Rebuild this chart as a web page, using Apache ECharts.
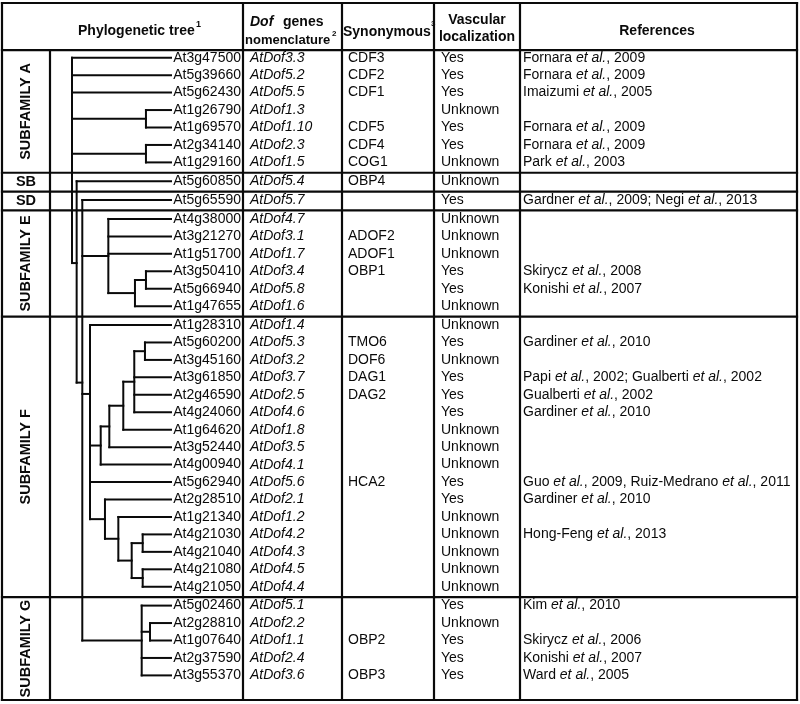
<!DOCTYPE html>
<html><head><meta charset="utf-8">
<script src="https://cdn.jsdelivr.net/npm/echarts@6/dist/echarts.min.js"></script>
<style>html,body{margin:0;padding:0;background:#fff}#c{width:800px;height:704px}</style>
</head><body><div id="c"></div>
<script>
// ---------------- DATA ----------------
const genes = ['At3g47500','At5g39660','At5g62430','At1g26790','At1g69570','At2g34140','At1g29160',
  'At5g60850','At5g65590',
  'At4g38000','At3g21270','At1g51700','At3g50410','At5g66940','At1g47655',
  'At1g28310','At5g60200','At3g45160','At3g61850','At2g46590','At4g24060','At1g64620','At3g52440',
  'At4g00940','At5g62940','At2g28510','At1g21340','At4g21030','At4g21040','At4g21080','At4g21050',
  'At5g02460','At2g28810','At1g07640','At2g37590','At3g55370'];
const dofNames = ['AtDof3.3','AtDof5.2','AtDof5.5','AtDof1.3','AtDof1.10','AtDof2.3','AtDof1.5',
  'AtDof5.4','AtDof5.7',
  'AtDof4.7','AtDof3.1','AtDof1.7','AtDof3.4','AtDof5.8','AtDof1.6',
  'AtDof1.4','AtDof5.3','AtDof3.2','AtDof3.7','AtDof2.5','AtDof4.6','AtDof1.8','AtDof3.5',
  'AtDof4.1','AtDof5.6','AtDof2.1','AtDof1.2','AtDof4.2','AtDof4.3','AtDof4.5','AtDof4.4',
  'AtDof5.1','AtDof2.2','AtDof1.1','AtDof2.4','AtDof3.6'];
const synonyms = ['CDF3','CDF2','CDF1','','CDF5','CDF4','COG1',
  'OBP4','',
  '','ADOF2','ADOF1','OBP1','','',
  '','TMO6','DOF6','DAG1','DAG2','','','',
  '','HCA2','','','','','','',
  '','','OBP2','','OBP3'];
const vascular = ['Yes','Yes','Yes','Unknown','Yes','Yes','Unknown',
  'Unknown','Yes',
  'Unknown','Unknown','Unknown','Yes','Yes','Unknown',
  'Unknown','Yes','Unknown','Yes','Yes','Yes','Unknown','Unknown',
  'Unknown','Yes','Yes','Unknown','Unknown','Unknown','Unknown','Unknown',
  'Yes','Unknown','Yes','Yes','Yes'];
const references = ['Fornara *et al.*, 2009','Fornara *et al.*, 2009','Imaizumi *et al.*, 2005','',
  'Fornara *et al.*, 2009','Fornara *et al.*, 2009','Park *et al.*, 2003',
  '','Gardner *et al.*, 2009; Negi *et al.*, 2013',
  '','','','Skirycz *et al.*, 2008','Konishi *et al.*, 2007','',
  '','Gardiner *et al.*, 2010','','Papi *et al.*, 2002; Gualberti *et al.*, 2002','Gualberti *et al.*, 2002',
  'Gardiner *et al.*, 2010','','',
  '','Guo *et al.*, 2009, Ruiz-Medrano *et al.*, 2011','Gardiner *et al.*, 2010','','Hong-Feng *et al.*, 2013','','','',
  'Kim *et al.*, 2010','','Skirycz *et al.*, 2006','Konishi *et al.*, 2007','Ward *et al.*, 2005'];
const sectionNames = ['SUBFAMILY A','SB','SD','SUBFAMILY E','SUBFAMILY F','SUBFAMILY G'];
const sectionSizes = [7,1,1,6,16,5];
// cladogram: leaves are row indices; d = branch-point depth (0 = root, 100 = tips); at = drawn junction row
const tree = {d:0, c:[0,1,2,{d:74.7,c:[3,4]},{d:74.7,c:[5,6]},
  {d:4.7, at:11.77, c:[7,
    {d:10.4, at:18.62, c:[8,
      {d:36.7, c:[9,10,11,{d:63.6,c:[{d:74.7,c:[12,13]},14]}]},
      {d:18.2, at:19.27, c:[15,
        {d:29, c:[{d:37.7, c:[{d:51.8, c:[{d:62.9, c:[{d:73.7,c:[16,17]},18,19,20]},21]},22]},23]},
        24,
        {d:33.3, c:[25,{d:46.8, c:[26,{d:60.3, c:[{d:71.4,c:[27,28]},{d:71.4,c:[29,30]}]}]}]}]},
      {d:70.4, c:[31,{d:78.8,c:[32,33]},34,35]}
    ]}
  ]}
]};

// ---------------- LAYOUT ----------------
const FONT = '"Liberation Sans", Arial, Helvetica, sans-serif';
const INK = '#0a0a0a';
const COL = {left:2, sub:50, tree:243, dof:342, syn:434, vasc:520, right:797};
const TXT = {gene:241, dof:250, syn:348, vasc:441, ref:523, sub:26};
const SECTION_GAP = 0.08;
const Y_MIN = -3.135, Y_MAX = 36.81, HEADER_LINE = -0.44;
const LEAF_D = 100;

const sectionOf = [];
sectionSizes.forEach((n, s) => { for (let k = 0; k < n; k++) sectionOf.push(s); });
const rowPos = i => i + SECTION_GAP * sectionOf[i];
let acc = 0;
const sections = sectionSizes.map((n, s) => { const f = acc; acc += n; return {s, first: f, last: f + n - 1}; });
const boundaries = [];
for (let s = 0; s < sections.length - 1; s++) {
  const a = rowPos(sections[s].last), b = rowPos(sections[s + 1].first);
  boundaries.push(a + 0.55 * (b - a));
}
const secTop = [HEADER_LINE].concat(boundaries), secBot = boundaries.concat([Y_MAX]);

// tree segments
const treeSegs = [];
function lay(node) {
  if (typeof node === 'number') return {y: rowPos(node), d: LEAF_D};
  const kids = node.c.map(lay);
  const ys = kids.map(k => k.y);
  const lo = Math.min(...ys), hi = Math.max(...ys);
  kids.forEach(k => treeSegs.push([node.d, k.y, k.d, k.y]));
  const y = node.at !== undefined ? node.at : (lo + hi) / 2;
  treeSegs.push([node.d, Math.min(lo, y), node.d, Math.max(hi, y)]);
  return {y, d: node.d};
}
lay(tree);

// table rules
const rules = [];
[Y_MIN, HEADER_LINE, ...boundaries, Y_MAX].forEach(y => rules.push([COL.left, y, COL.right, y]));
[COL.left, COL.tree, COL.dof, COL.syn, COL.vasc, COL.right].forEach(x => rules.push([x, Y_MIN, x, Y_MAX]));
rules.push([COL.sub, HEADER_LINE, COL.sub, Y_MAX]);

function richRef(s) {
  return s.split('*').map((p, k) => p ? '{' + (k % 2 ? 'i' : 'n') + '|' + p + '}' : '').join('');
}
const base = {fontSize: 14, fontFamily: FONT, fill: INK};

function segRender(width) {
  return function (params, api) {
    const a = api.coord([api.value(0), api.value(1)]);
    const b = api.coord([api.value(2), api.value(3)]);
    return {type: 'line', shape: {x1: a[0], y1: a[1], x2: b[0], y2: b[1]},
      style: {stroke: INK, lineWidth: width, lineCap: 'square'}};
  };
}

const option = {
  animation: false,
  backgroundColor: '#fff',
  grid: [
    {left: 0, right: 0, top: 3, bottom: 4, show: false},
    {left: 72, width: 99, top: 3, bottom: 4, show: false}
  ],
  xAxis: [
    {type: 'value', gridIndex: 0, min: 0, max: 800, show: false},
    {type: 'value', gridIndex: 1, min: 0, max: 100, show: false}
  ],
  yAxis: [
    {type: 'value', gridIndex: 0, min: Y_MIN, max: Y_MAX, inverse: true, show: false},
    {type: 'value', gridIndex: 1, min: Y_MIN, max: Y_MAX, inverse: true, show: false}
  ],
  series: [
    {type: 'custom', xAxisIndex: 0, yAxisIndex: 0, data: rules, encode: {x: [0, 2], y: [1, 3]},
      renderItem: segRender(2.2), silent: true},
    {type: 'custom', xAxisIndex: 1, yAxisIndex: 1, data: treeSegs, encode: {x: [0, 2], y: [1, 3]},
      renderItem: segRender(2), silent: true},
    {type: 'custom', xAxisIndex: 0, yAxisIndex: 0, silent: true,
      data: genes.map((g, i) => [0, rowPos(i), i]), encode: {x: 0, y: 1},
      renderItem: function (params, api) {
        const i = api.value(2), v = api.value(1);
        const at = x => api.coord([x, v]);
        const t = (x, text, extra) => {
          const p = at(x);
          return {type: 'text', x: p[0], y: p[1],
            style: Object.assign({text: text, align: 'left', verticalAlign: 'middle'}, base, extra || {})};
        };
        const els = [
          t(TXT.gene, genes[i], {align: 'right'}),
          t(TXT.dof, dofNames[i], {fontStyle: 'italic'}),
          t(TXT.syn, synonyms[i]),
          t(TXT.vasc, vascular[i])
        ];
        if (references[i]) {
          els.push(t(TXT.ref, richRef(references[i]), {rich: {
            n: Object.assign({}, base),
            i: Object.assign({fontStyle: 'italic'}, base)
          }}));
        }
        return {type: 'group', children: els};
      }},
    {type: 'custom', xAxisIndex: 0, yAxisIndex: 0, silent: true,
      data: sections.map(s => [0, (secTop[s.s] + secBot[s.s]) / 2, s.s]), encode: {x: 0, y: 1},
      renderItem: function (params, api) {
        const s = api.value(2);
        const p = api.coord([TXT.sub, api.value(1)]);
        const name = sectionNames[s];
        const vertical = sectionSizes[s] > 1;
        return {type: 'text', x: p[0], y: p[1], rotation: vertical ? Math.PI / 2 : 0,
          style: Object.assign({}, base, {text: name, align: 'center', verticalAlign: 'middle', fontWeight: 'bold', fontSize: 14.5})};
      }}
  ],
  graphic: [
    {type: 'text', x: 78, y: 31, style: Object.assign({text: 'Phylogenetic tree', fontWeight: 'bold', verticalAlign: 'middle'}, base)},
    {type: 'text', x: 196, y: 25, style: Object.assign({}, base, {text: '1', fontSize: 9, fontWeight: 'bold', verticalAlign: 'middle'})},
    {type: 'text', x: 250, y: 22, style: Object.assign({text: 'Dof', fontWeight: 'bold', fontStyle: 'italic', verticalAlign: 'middle'}, base)},
    {type: 'text', x: 283, y: 22, style: Object.assign({text: 'genes', fontWeight: 'bold', verticalAlign: 'middle'}, base)},
    {type: 'text', x: 245, y: 40, style: Object.assign({}, base, {text: 'nomenclature', fontSize: 13, fontWeight: 'bold', verticalAlign: 'middle'})},
    {type: 'text', x: 332, y: 34, style: Object.assign({}, base, {text: '2', fontSize: 8, fontWeight: 'bold', verticalAlign: 'middle'})},
    {type: 'text', x: 343, y: 32, style: Object.assign({text: 'Synonymous', fontWeight: 'bold', verticalAlign: 'middle'}, base)},
    {type: 'text', x: 431, y: 24, style: Object.assign({}, base, {text: '3', fontSize: 8, fontWeight: 'bold', verticalAlign: 'middle'})},
    {type: 'text', x: 477, y: 20, style: Object.assign({text: 'Vascular', fontWeight: 'bold', align: 'center', verticalAlign: 'middle'}, base)},
    {type: 'text', x: 477, y: 37, style: Object.assign({text: 'localization', fontWeight: 'bold', align: 'center', verticalAlign: 'middle'}, base)},
    {type: 'text', x: 657, y: 31, style: Object.assign({text: 'References', fontWeight: 'bold', align: 'center', verticalAlign: 'middle'}, base)}
  ]
};
echarts.init(document.getElementById('c'), null, {renderer: 'canvas'}).setOption(option);
</script>
</body></html>
